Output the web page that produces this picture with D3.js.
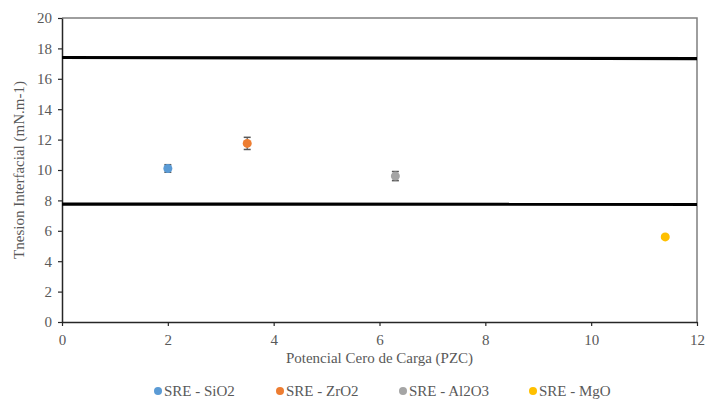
<!DOCTYPE html>
<html>
<head>
<meta charset="utf-8">
<script src="https://cdn.jsdelivr.net/npm/d3@7"></script>
<style>
  body { margin: 0; background: #fff; }
  svg text { font-family: "Times New Roman", "Liberation Serif", Tinos, "DejaVu Serif", serif; fill: #595959; }
</style>
</head>
<body>
<div class="chart-wrapper"></div>
<script>
// series (one point each, with error)
const seriesNames = ['SRE - SiO2', 'SRE - ZrO2', 'SRE - Al2O3', 'SRE - MgO'];
const pzcValues = [2.0, 3.5, 6.3, 11.4];
const tensionValues = [10.1, 11.75, 9.6, 5.6];
const errorValues = [0.25, 0.4, 0.3, 0.1];
const seriesColors = ['#5B9BD5', '#ED7D31', '#A5A5A5', '#FFC000'];

// reference lines (start / end values)
const refLineStart = [17.4, 7.76];
const refLineEnd = [17.33, 7.74];

const xTicks = [0, 2, 4, 6, 8, 10, 12];
const yTicks = [0, 2, 4, 6, 8, 10, 12, 14, 16, 18, 20];

const fontStack = '"Times New Roman", "Liberation Serif", Tinos, "DejaVu Serif", serif';

const width = 708, height = 399;
const margin = { top: 18, right: 11, bottom: 77, left: 62 };
const w = width - margin.left - margin.right;
const h = height - margin.top - margin.bottom;

const svg = d3.select('.chart-wrapper')
  .append('svg')
  .attr('width', width)
  .attr('height', height);

const g = svg.append('g')
  .attr('transform', 'translate(' + margin.left + ',' + margin.top + ')');

const x = d3.scaleLinear().domain([0, 12]).range([0, w]);
const y = d3.scaleLinear().domain([0, 20]).range([h, 0]);

// plot border (top and right)
g.append('path')
  .attr('d', 'M0,0H' + w + 'V' + h)
  .attr('fill', 'none')
  .attr('stroke', '#7f7f7f')
  .attr('stroke-width', 1.5);

// axes
const xAxis = d3.axisBottom(x).tickValues(xTicks).tickSize(4).tickSizeOuter(0).tickPadding(8);
const yAxis = d3.axisLeft(y).tickValues(yTicks).tickSize(4).tickSizeOuter(0).tickPadding(6);

const gx = g.append('g')
  .attr('transform', 'translate(0,' + h + ')')
  .call(xAxis);
const gy = g.append('g').call(yAxis);

[gx, gy].forEach(function (ax) {
  ax.attr('font-family', fontStack).attr('font-size', 15);
  ax.select('.domain').attr('stroke', '#262626').attr('stroke-width', 1.5);
  ax.selectAll('.tick line').attr('stroke', '#262626').attr('stroke-width', 1.2);
  ax.selectAll('.tick text')
    .style('font-family', fontStack)
    .style('font-size', '15px')
    .attr('fill', '#595959');
});

// reference lines
g.selectAll('line.ref')
  .data(refLineStart)
  .enter()
  .append('line')
  .attr('class', 'ref')
  .attr('x1', x(0))
  .attr('x2', x(12))
  .attr('y1', function (d) { return y(d); })
  .attr('y2', function (d, i) { return y(refLineEnd[i]); })
  .attr('stroke', '#000')
  .attr('stroke-width', 3.2);

// error bars
const pts = g.selectAll('g.pt')
  .data(seriesNames)
  .enter()
  .append('g')
  .attr('class', 'pt');

pts.append('line')
  .attr('x1', function (d, i) { return x(pzcValues[i]); })
  .attr('x2', function (d, i) { return x(pzcValues[i]); })
  .attr('y1', function (d, i) { return y(tensionValues[i] - errorValues[i]); })
  .attr('y2', function (d, i) { return y(tensionValues[i] + errorValues[i]); })
  .attr('stroke', '#595959')
  .attr('stroke-width', 1.2);

[-1, 1].forEach(function (s) {
  pts.append('line')
    .attr('x1', function (d, i) { return x(pzcValues[i]) - 3.5; })
    .attr('x2', function (d, i) { return x(pzcValues[i]) + 3.5; })
    .attr('y1', function (d, i) { return y(tensionValues[i] + s * errorValues[i]); })
    .attr('y2', function (d, i) { return y(tensionValues[i] + s * errorValues[i]); })
    .attr('stroke', '#595959')
    .attr('stroke-width', 1.5);
});

pts.append('circle')
  .attr('cx', function (d, i) { return x(pzcValues[i]); })
  .attr('cy', function (d, i) { return y(tensionValues[i]); })
  .attr('r', 4.5)
  .attr('fill', function (d, i) { return seriesColors[i]; });

// axis titles
svg.append('text')
  .attr('x', margin.left + w / 2)
  .attr('y', 363)
  .attr('text-anchor', 'middle')
  .style('font-size', '15px')
  .text('Potencial Cero de Carga (PZC)');

svg.append('text')
  .attr('transform', 'translate(24,' + (margin.top + h / 2) + ') rotate(-90)')
  .attr('text-anchor', 'middle')
  .style('font-size', '15px')
  .text('Tnesion Interfacial (mN.m-1)');

// legend
const legendX = [158, 280, 403, 533];
const legend = svg.selectAll('g.legend')
  .data(seriesNames)
  .enter()
  .append('g')
  .attr('class', 'legend')
  .attr('transform', function (d, i) { return 'translate(' + legendX[i] + ',391)'; });

legend.append('circle')
  .attr('r', 4)
  .attr('fill', function (d, i) { return seriesColors[i]; });

legend.append('text')
  .attr('x', 6)
  .attr('dy', '0.35em')
  .style('font-size', '15px')
  .text(function (d) { return d; });
</script>
</body>
</html>
